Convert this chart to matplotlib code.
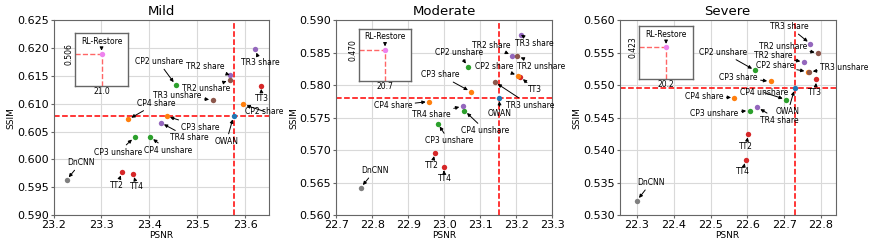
"""
PSNR vs SSIM scatter for three degradation levels
"""

import matplotlib
matplotlib.use("Agg")
import matplotlib.pyplot as plt

# methods shown in every panel
methods = ['DnCNN', 'TT2', 'TT3', 'TT4',
           'CP2 share', 'CP3 share', 'CP4 share',
           'CP2 unshare', 'CP3 unshare', 'CP4 unshare',
           'TR2 share', 'TR3 share', 'TR4 share',
           'TR2 unshare', 'TR3 unshare', 'OWAN']

titles = ['Mild', 'Moderate', 'Severe']

psnr_mild = [23.227, 23.343, 23.633, 23.366, 23.596, 23.436, 23.356, 23.455,
             23.369, 23.402, 23.568, 23.621, 23.424, 23.568, 23.532, 23.576]
ssim_mild = [0.5963, 0.5977, 0.6133, 0.5974, 0.6099, 0.6078, 0.6072, 0.6134,
             0.6040, 0.6040, 0.6152, 0.6198, 0.6066, 0.6143, 0.6107, 0.6078]

psnr_moderate = [22.768, 22.974, 23.211, 22.998, 23.205, 23.074, 22.958, 23.065,
                 22.982, 23.056, 23.188, 23.213, 23.051, 23.203, 23.140, 23.152]
ssim_moderate = [0.5642, 0.5696, 0.5813, 0.5674, 0.5815, 0.5790, 0.5775, 0.5829,
                 0.5741, 0.5761, 0.5846, 0.5878, 0.5768, 0.5845, 0.5805, 0.5781]

psnr_severe = [22.300, 22.602, 22.787, 22.595, 22.764, 22.663, 22.565, 22.621,
               22.606, 22.705, 22.753, 22.771, 22.627, 22.792, 22.768, 22.729]
ssim_severe = [0.5322, 0.5425, 0.5509, 0.5385, 0.5521, 0.5506, 0.5481, 0.5523,
               0.5461, 0.5478, 0.5536, 0.5564, 0.5466, 0.5550, 0.5521, 0.5496]

# RL-Restore is far off, shown in its own little inset
rl_psnr = [21.0, 20.7, 20.2]
rl_ssim = [0.506, 0.470, 0.423]

# ---- styling / layout -------------------------------------------------------
colors = {'DnCNN': 'tab:gray', 'TT2': 'tab:red', 'TT3': 'tab:red', 'TT4': 'tab:red',
          'CP2 share': 'tab:orange', 'CP3 share': 'tab:orange', 'CP4 share': 'tab:orange',
          'CP2 unshare': 'tab:green', 'CP3 unshare': 'tab:green', 'CP4 unshare': 'tab:green',
          'TR2 share': 'tab:purple', 'TR3 share': 'tab:purple', 'TR4 share': 'tab:purple',
          'TR2 unshare': 'tab:brown', 'TR3 unshare': 'tab:brown', 'OWAN': 'tab:blue'}

xlims = [(23.2, 23.65), (22.7, 23.3), (22.253, 22.84)]
ylims = [(0.590, 0.625), (0.560, 0.590), (0.530, 0.560)]
xticks = [[23.2, 23.3, 23.4, 23.5, 23.6],
          [22.7, 22.8, 22.9, 23.0, 23.1, 23.2, 23.3],
          [22.3, 22.4, 22.5, 22.6, 22.7, 22.8]]
yticks = [[0.590, 0.595, 0.600, 0.605, 0.610, 0.615, 0.620, 0.625],
          [0.560, 0.565, 0.570, 0.575, 0.580, 0.585, 0.590],
          [0.530, 0.535, 0.540, 0.545, 0.550, 0.555, 0.560]]

# label offsets from each point, in pixels (same order as methods)
offsets = [
    [(14, 17), (-5, -13), (1, -13), (4, -13), (21, -7), (34, -11), (28, 16), (-17, 23),
     (-16, -15), (18, -13), (-25, 8), (5, -13), (28, -15), (-24, -9), (-35, 4), (-7, -25)],
    [(14, 17), (-3, -13), (15, -13), (1, -12), (-24, 9), (-31, 17), (-36, -4), (-9, 14),
     (11, -17), (21, -20), (-21, 10), (13, -9), (-31, -8), (24, -10), (35, -23), (1, -16)],
    [(14, 18), (-2, -13), (-1, -13), (-3, -12), (-33, 6), (-32, 4), (-30, 1), (-32, 18),
     (-35, -3), (-22, 7), (-31, 6), (-21, 17), (22, -13), (-35, 6), (35, 4), (-7, -24)],
]

axes_rects = [[0.0615, 0.119, 0.247, 0.797],
              [0.3855, 0.119, 0.248, 0.797],
              [0.7105, 0.119, 0.248, 0.797]]
inset_rects = [[0.10, 0.665, 0.245, 0.27],
               [0.105, 0.69, 0.242, 0.265],
               [0.09, 0.70, 0.25, 0.27]]

plt.rcParams['font.family'] = 'DejaVu Sans'

fig = plt.figure(figsize=(8.72, 2.44), dpi=100)

series = [(psnr_mild, ssim_mild), (psnr_moderate, ssim_moderate), (psnr_severe, ssim_severe)]
arrow = dict(arrowstyle='-|>', color='black', lw=0.7, mutation_scale=5, shrinkA=0, shrinkB=2.5)

for i, (psnr, ssim) in enumerate(series):
    ax = fig.add_axes(axes_rects[i])

    owan = methods.index('OWAN')
    ax.axhline(ssim[owan], color='red', ls='--', lw=1.1, zorder=2)
    ax.axvline(psnr[owan], color='red', ls='--', lw=1.1, zorder=2)

    for j, m in enumerate(methods):
        ax.scatter(psnr[j], ssim[j], s=15, color=colors[m], zorder=3, linewidths=0)
        ax.annotate(m, (psnr[j], ssim[j]), xytext=offsets[i][j], textcoords='offset pixels',
                    ha='center', va='center', fontsize=5.5, arrowprops=arrow, zorder=4)

    ax.set_xlim(xlims[i])
    ax.set_ylim(ylims[i])
    ax.set_xticks(xticks[i])
    ax.set_yticks(yticks[i])
    ax.set_xticklabels(['%.1f' % t for t in xticks[i]])
    ax.set_yticklabels(['%.3f' % t for t in yticks[i]])
    ax.tick_params(labelsize=8, length=2.5, width=0.8, color='0.4', pad=1)
    ax.grid(True, color='0.85', lw=0.8, zorder=0)
    ax.set_axisbelow(True)
    for sp in ax.spines.values():
        sp.set_color('0.4')
    ax.set_title(titles[i], fontsize=9.5, pad=4)
    ax.set_xlabel('PSNR', fontsize=6.5, labelpad=1)
    ax.set_ylabel('SSIM', fontsize=6.5, labelpad=1)

    # inset with RL-Restore
    ins = ax.inset_axes(inset_rects[i])
    x0, y0 = rl_psnr[i], rl_ssim[i]
    ins.set_xlim(x0 - 0.1, x0 + 0.1)
    ins.set_ylim(y0 - 0.006, y0 + 0.004)
    ins.plot([x0 - 0.1, x0], [y0, y0], color='red', ls='--', lw=1.0, alpha=0.6)
    ins.plot([x0, x0], [y0 - 0.006, y0], color='red', ls='--', lw=1.0, alpha=0.6)
    ins.scatter(x0, y0, s=15, color='violet', zorder=3, linewidths=0)
    ins.annotate('RL-Restore', (x0, y0), xytext=(0, 13), textcoords='offset pixels',
                 ha='center', va='center', fontsize=5.5, arrowprops=arrow)
    ins.set_xticks([x0])
    ins.set_yticks([y0])
    ins.set_xticklabels(['%.1f' % x0])
    ins.set_yticklabels(['%.3f' % y0], rotation=90, va='center')
    ins.tick_params(labelsize=5.5, length=0, pad=1)
    for sp in ins.spines.values():
        sp.set_color('0.4')
        sp.set_linewidth(1.0)

fig.savefig('out.png', dpi=100)
